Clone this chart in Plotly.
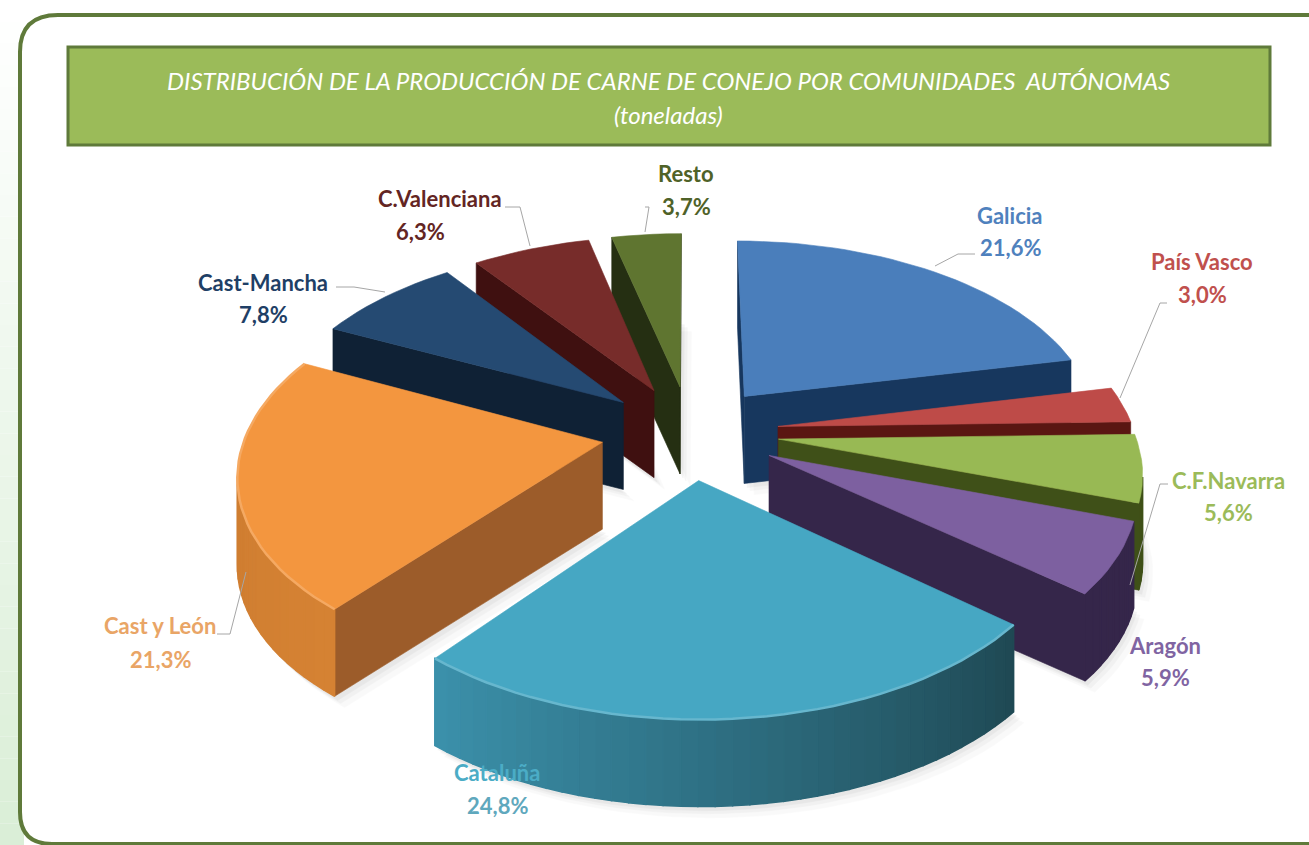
import math
import plotly.graph_objects as go

# ---------- data ----------
categories = ["Galicia", "País Vasco", "C.F.Navarra", "Aragón", "Cataluña",
              "Cast y León", "Cast-Mancha", "C.Valenciana", "Resto"]
values = [21.6, 3.0, 5.6, 5.9, 24.8, 21.3, 7.8, 6.3, 3.7]
title_lines = ["DISTRIBUCIÓN DE LA PRODUCCIÓN DE CARNE DE CONEJO POR COMUNIDADES  AUTÓNOMAS",
               "(toneladas)"]

# ---------- style ----------
top_colors = ["#4a7ebb", "#be4b48", "#98b954", "#7d60a0", "#46a7c3",
              "#f3963f", "#254a72", "#772c2a", "#5f7530"]
side_colors = ["#17375e", "#5a1612", "#3f5018", "#35264a", "#1d4a56",
               "#9c5c2a", "#0f2135", "#3f1010", "#252f12"]
rim_start = ["#17375e", "#5a1612", "#3f5018", "#35264a", "#1f4954",
             "#d58233", "#0f2135", "#3f1010", "#252f12"]
rim_end = ["#17375e", "#5a1612", "#3f5018", "#35264a", "#3b90aa",
           "#c9792f", "#0f2135", "#3f1010", "#252f12"]
text_colors = ["#4f81bd", "#c0504d", "#9bbb59", "#8064a2", "#4bacc6",
               "#e9a566", "#1f3f66", "#632523", "#4f6228"]
pct_colors = ["#4f81bd", "#c0504d", "#9bbb59", "#8064a2", "#5fa8bd",
              "#e9a566", "#1f3f66", "#632523", "#4f6228"]
name_pos = [(1010, 215), (1202, 261), (1228, 480), (1165, 645), (497, 772),
            (160, 625), (263, 282), (440, 198), (686, 173)]
pct_pos = [(1010, 247), (1202, 294), (1228, 512), (1165, 677), (497, 805),
           (160, 659), (263, 314), (420, 231), (686, 206)]
leaders = [[(975, 254), (958, 254), (935, 266)],
           [(1167, 303), (1160, 303), (1120, 398)],
           [(1168, 484), (1160, 484), (1130, 585)],
           None,
           None,
           [(217, 634), (230, 634), (246, 572)],
           [(336, 287), (354, 287), (385, 292)],
           [(505, 207), (520, 207), (530, 246)],
           [(645, 207), (649, 207), (645, 232)]]
CX, CY, A, B, K, THICK, EXPLODE = 690, 432, 356, 188, 0.147, 87, 0.25
FONT = "Lato"


def project(u, v, z=0.0):
    w = 1 - K * v
    return CX + A * u / w, CY + B * v / w + THICK * z


def mix(c1, c2, t):
    a = [int(c1[i:i + 2], 16) for i in (1, 3, 5)]
    b = [int(c2[i:i + 2], 16) for i in (1, 3, 5)]
    return "#%02x%02x%02x" % tuple(round(a[i] + (b[i] - a[i]) * t) for i in range(3))


def area(poly):
    return sum(poly[i][0] * poly[(i + 1) % len(poly)][1] - poly[(i + 1) % len(poly)][0] * poly[i][1]
               for i in range(len(poly))) / 2


fig = go.Figure()


def add_poly(poly, color, opacity=1.0, width=0.6):
    fig.add_trace(go.Scatter(
        x=[p[0] for p in poly] + [poly[0][0]], y=[p[1] for p in poly] + [poly[0][1]],
        mode="lines", fill="toself", fillcolor=color, opacity=opacity,
        line=dict(color=color, width=width), hoverinfo="skip", showlegend=False))


# slice geometry, derived from the values
total = sum(values)
slices = []
acc = 0.0
for i, val in enumerate(values):
    t0 = acc / total * 2 * math.pi
    acc += val
    t1 = acc / total * 2 * math.pi
    mid = (t0 + t1) / 2
    ou, ov = EXPLODE * math.sin(mid), -EXPLODE * math.cos(mid)
    n = max(4, int(val * 1.6))
    arc = [(ou + math.sin(t0 + (t1 - t0) * j / n), ov - math.cos(t0 + (t1 - t0) * j / n)) for j in range(n + 1)]
    slices.append(dict(i=i, apex=(ou, ov), arc=arc, depth=ov - math.cos(mid) * 0.6))

# soft shadows under the solids
for s in slices:
    ring = [s["apex"]] + s["arc"]
    for dx, dy, op in ((10, 11, 0.04), (6, 7, 0.06), (3, 4, 0.08)):
        add_poly([(project(u, v, 1)[0] + dx, project(u, v, 1)[1] + dy) for u, v in ring], "#808080", op)

# solids, far to near
for s in sorted(slices, key=lambda d: d["depth"]):
    i, apex, arc = s["i"], s["apex"], s["arc"]
    side = side_colors[i]
    for p, q in ((apex, arc[0]), (arc[-1], apex)):
        quad = [project(*p), project(*q), project(*q, 1), project(*p, 1)]
        if area(quad) < 0:
            add_poly(quad, side)
    for j in range(len(arc) - 1):
        quad = [project(*arc[j]), project(*arc[j + 1]), project(*arc[j + 1], 1), project(*arc[j], 1)]
        if area(quad) < 0:
            add_poly(quad, mix(rim_start[i], rim_end[i], j / max(1, len(arc) - 2)), width=1.5)
    add_poly([project(*apex)] + [project(*p) for p in arc], top_colors[i])
    if i in (4, 5):
        pts = [project(*p) for p in arc]
        fig.add_trace(go.Scatter(x=[p[0] for p in pts], y=[p[1] for p in pts], mode="lines",
                                 line=dict(color=mix(top_colors[i], "#ffffff", 0.18), width=2.5),
                                 hoverinfo="skip", showlegend=False))

# leader lines
for path in leaders:
    if path:
        fig.add_trace(go.Scatter(x=[p[0] for p in path], y=[p[1] for p in path], mode="lines",
                                 line=dict(color="#a6a6a6", width=1), hoverinfo="skip", showlegend=False))

# data labels
annotations = []
for i, name in enumerate(categories):
    pct = f"{values[i]:.1f}".replace(".", ",") + "%"
    for txt, (x, y), col in ((name, name_pos[i], text_colors[i]), (pct, pct_pos[i], pct_colors[i])):
        annotations.append(dict(x=x, y=y, xref="x", yref="y", text=txt, showarrow=False,
                                font=dict(family=FONT, size=22, color=col, weight="bold")))
for txt, y in zip(title_lines, (80, 114)):
    annotations.append(dict(x=668, y=y, xref="x", yref="y", text=txt, showarrow=False,
                            font=dict(family=FONT, size=24, color="#ffffff", style="italic")))

# frame, side tint and title band
shapes = []
for k in range(40):
    f = k / 39
    shapes.append(dict(type="rect", xref="x", yref="y", x0=0, x1=24, y0=845 * f, y1=845 * (f + 1 / 39),
                       fillcolor=mix("#ffffff", "#d9eed6", f), line=dict(width=0), layer="below"))
shapes.append(dict(type="path", xref="x", yref="y",
                   path="M 1320 15 L 58 15 Q 20 15 20 52 L 20 812 Q 20 844 52 844 L 1320 844 Z",
                   fillcolor="#ffffff", line=dict(color="#5f7a3a", width=4), layer="below"))
shapes.append(dict(type="rect", xref="x", yref="y", x0=68, x1=1270, y0=47, y1=145,
                   fillcolor="#9bbb59", line=dict(color="#5f7a3a", width=3), layer="below"))

fig.update_layout(
    width=1309, height=845, margin=dict(l=0, r=0, t=0, b=0),
    paper_bgcolor="#ffffff", plot_bgcolor="rgba(0,0,0,0)", showlegend=False,
    xaxis=dict(range=[0, 1309], visible=False, fixedrange=True),
    yaxis=dict(range=[845, 0], visible=False, fixedrange=True),
    annotations=annotations, shapes=shapes)

fig.write_html("out.html", post_script="document.body.style.margin='0';document.documentElement.style.overflow='hidden';",
               config={"displayModeBar": False})
